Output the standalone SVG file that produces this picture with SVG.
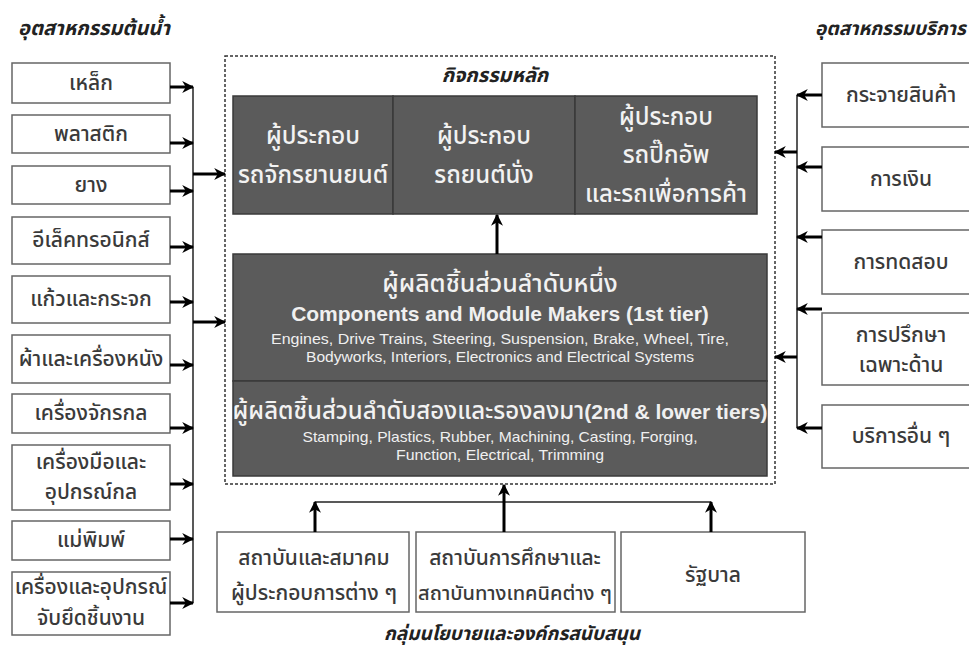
<svg xmlns="http://www.w3.org/2000/svg" width="969" height="648" viewBox="0 0 969 648">
<style>
text{font-family:"Noto Sans Thai","Noto Sans Thai UI","Loma","Garuda","Tlwg Typo","Liberation Sans","DejaVu Sans",sans-serif;text-anchor:middle}
.wb{fill:#fff;stroke:#666;stroke-width:1.5}
.db{fill:#5b5b5b;stroke:#3a3a3a;stroke-width:1.5}
.lt{font-size:21px;fill:#3a3a3a;font-weight:500}
.dt{font-size:24px;fill:#f2f2f2;font-weight:500}
.ttl{font-size:20px;font-weight:bold;font-style:italic;fill:#222}
.en{font-family:"Liberation Sans",Arial,sans-serif;fill:#f0f0f0}
.arr{stroke:#000;stroke-width:3;fill:none;marker-end:url(#ah)}
.ln{stroke:#222;stroke-width:1.5;fill:none}
</style>
<defs>
<marker id="ah" viewBox="0 0 10 10" refX="9" refY="5" markerWidth="4" markerHeight="4" orient="auto" markerUnits="strokeWidth">
<path d="M0,0 L10,5 L0,10 L3,5 z" fill="#000"/>
</marker>
</defs>
<rect width="969" height="648" fill="#fff"/>

<text class="ttl" x="94" y="35">อุตสาหกรรมต้นน้ำ</text>
<text class="ttl" x="815" y="35" style="text-anchor:start;font-size:19px">อุตสาหกรรมบริการ</text>
<text class="ttl" x="495" y="82">กิจกรรมหลัก</text>
<text class="ttl" x="512" y="640" style="font-size:19px">กลุ่มนโยบายและองค์กรสนับสนุน</text>

<rect x="225" y="56" width="550" height="428" fill="none" stroke="#333" stroke-width="1.5" stroke-dasharray="3,2"/>

<g id="up1"><rect class="wb" x="12" y="63" width="158" height="40"/><text class="lt" x="91" y="90">เหล็ก</text></g>
<g id="up2"><rect class="wb" x="12" y="115" width="158" height="38"/><text class="lt" x="91" y="141">พลาสติก</text></g>
<g id="up3"><rect class="wb" x="12" y="166" width="158" height="38"/><text class="lt" x="91" y="192">ยาง</text></g>
<g id="up4"><rect class="wb" x="12" y="217" width="158" height="47"/><text class="lt" x="91" y="247">อีเล็คทรอนิกส์</text></g>
<g id="up5"><rect class="wb" x="12" y="276" width="158" height="47"/><text class="lt" x="91" y="306">แก้วและกระจก</text></g>
<g id="up6"><rect class="wb" x="12" y="335" width="158" height="48"/><text class="lt" x="91" y="366">ผ้าและเครื่องหนัง</text></g>
<g id="up7"><rect class="wb" x="12" y="394" width="158" height="39"/><text class="lt" x="91" y="420">เครื่องจักรกล</text></g>
<g id="up8"><rect class="wb" x="12" y="445" width="158" height="65"/><text class="lt" x="91" y="469">เครื่องมือและ</text><text class="lt" x="91" y="499">อุปกรณ์กล</text></g>
<g id="up9"><rect class="wb" x="12" y="521" width="158" height="39"/><text class="lt" x="91" y="547">แม่พิมพ์</text></g>
<g id="up10"><rect class="wb" x="12" y="572" width="158" height="63"/><text class="lt" x="91" y="594">เครื่องและอุปกรณ์</text><text class="lt" x="91" y="625">จับยึดชิ้นงาน</text></g>

<g id="sv1"><rect class="wb" x="822" y="63" width="160" height="64"/><text class="lt" x="901" y="102">กระจายสินค้า</text></g>
<g id="sv2"><rect class="wb" x="822" y="147" width="160" height="64"/><text class="lt" x="901" y="186">การเงิน</text></g>
<g id="sv3"><rect class="wb" x="822" y="230" width="160" height="64"/><text class="lt" x="901" y="269">การทดสอบ</text></g>
<g id="sv4"><rect class="wb" x="822" y="313" width="160" height="72"/><text class="lt" x="901" y="342">การปรึกษา</text><text class="lt" x="901" y="372">เฉพาะด้าน</text></g>
<g id="sv5"><rect class="wb" x="822" y="405" width="160" height="63"/><text class="lt" x="901" y="443">บริการอื่น ๆ</text></g>

<g id="oem1"><rect class="db" x="233" y="96" width="160" height="118"/><text class="dt" x="313" y="144">ผู้ประกอบ</text><text class="dt" x="313" y="183">รถจักรยานยนต์</text></g>
<g id="oem2"><rect class="db" x="393" y="96" width="182" height="118"/><text class="dt" x="484" y="144">ผู้ประกอบ</text><text class="dt" x="484" y="183">รถยนต์นั่ง</text></g>
<g id="oem3"><rect class="db" x="575" y="96" width="182" height="118"/><text class="dt" x="666" y="125">ผู้ประกอบ</text><text class="dt" x="666" y="163">รถปิ๊กอัพ</text><text class="dt" x="666" y="202">และรถเพื่อการค้า</text></g>

<g id="tier1"><rect class="db" x="233" y="254" width="534" height="127"/>
<text class="dt" x="500" y="292" style="font-size:25px">ผู้ผลิตชิ้นส่วนลำดับหนึ่ง</text>
<text class="en" x="500" y="321" font-size="21" font-weight="bold">Components and Module Makers (1st tier)</text>
<text class="en" x="500" y="344" font-size="15" textLength="458" lengthAdjust="spacingAndGlyphs">Engines, Drive Trains, Steering, Suspension, Brake, Wheel, Tire,</text>
<text class="en" x="500" y="362" font-size="15" textLength="388" lengthAdjust="spacingAndGlyphs">Bodyworks, Interiors, Electronics and Electrical Systems</text></g>
<g id="tier2"><rect class="db" x="233" y="381" width="534" height="95"/>
<text class="dt" x="500" y="419">ผู้ผลิตชิ้นส่วนลำดับสองและรองลงมา<tspan class="en" font-weight="bold" font-size="21">(2nd &amp; lower tiers)</tspan></text>
<text class="en" x="500" y="442" font-size="15" textLength="395" lengthAdjust="spacingAndGlyphs">Stamping, Plastics, Rubber, Machining, Casting, Forging,</text>
<text class="en" x="500" y="460" font-size="15" textLength="208" lengthAdjust="spacingAndGlyphs">Function, Electrical, Trimming</text></g>

<g id="sp1"><rect class="wb" x="217" y="532" width="192" height="80"/><text class="lt" x="314" y="565">สถาบันและสมาคม</text><text class="lt" x="314" y="600">ผู้ประกอบการต่าง ๆ</text></g>
<g id="sp2"><rect class="wb" x="416" y="532" width="199" height="80"/><text class="lt" x="515" y="565">สถาบันการศึกษาและ</text><text class="lt" x="515" y="600" style="font-size:20px">สถาบันทางเทคนิคต่าง ๆ</text></g>
<g id="sp3"><rect class="wb" x="621" y="532" width="184" height="80"/><text class="lt" x="713" y="582">รัฐบาล</text></g>

<g id="connectors">
<line class="ln" x1="193" y1="87" x2="193" y2="603"/>
<line class="arr" x1="170" y1="87" x2="193" y2="87"/>
<line class="arr" x1="170" y1="143" x2="193" y2="143"/>
<line class="arr" x1="170" y1="191" x2="193" y2="191"/>
<line class="arr" x1="170" y1="247" x2="193" y2="247"/>
<line class="arr" x1="170" y1="302" x2="193" y2="302"/>
<line class="arr" x1="170" y1="365" x2="193" y2="365"/>
<line class="arr" x1="170" y1="428" x2="193" y2="428"/>
<line class="arr" x1="170" y1="484" x2="193" y2="484"/>
<line class="arr" x1="170" y1="539" x2="193" y2="539"/>
<line class="arr" x1="170" y1="603" x2="193" y2="603"/>
<line class="arr" x1="193" y1="174" x2="225" y2="174"/>
<line class="arr" x1="193" y1="322" x2="225" y2="322"/>

<line class="ln" x1="797" y1="95" x2="797" y2="428"/>
<line class="arr" x1="822" y1="95" x2="797" y2="95"/>
<line class="arr" x1="822" y1="167" x2="797" y2="167"/>
<line class="arr" x1="822" y1="237" x2="797" y2="237"/>
<line class="arr" x1="822" y1="309" x2="797" y2="309"/>
<line class="arr" x1="822" y1="428" x2="797" y2="428"/>
<line class="arr" x1="797" y1="152" x2="775" y2="152"/>
<line class="arr" x1="797" y1="357" x2="775" y2="357"/>

<line class="ln" x1="315" y1="502" x2="711" y2="502"/>
<line class="arr" x1="315" y1="532" x2="315" y2="502"/>
<line class="arr" x1="711" y1="532" x2="711" y2="502"/>
<line class="arr" x1="504" y1="532" x2="504" y2="485"/>

<line class="arr" x1="497" y1="254" x2="497" y2="215"/>
</g>
</svg>
